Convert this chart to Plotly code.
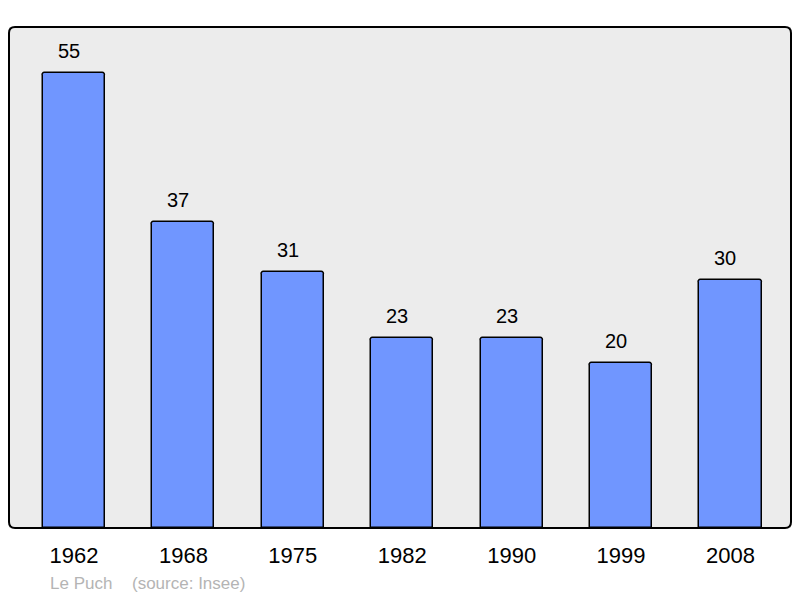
import plotly.graph_objects as go

years = ["1962", "1968", "1975", "1982", "1990", "1999", "2008"]
population = [55, 37, 31, 23, 23, 20, 30]
place = "Le Puch"
source = "(source: Insee)"

W, H = 800, 598
L, R, T, B = 9, 9, 27, 70
pw, ph = W - L - R, H - T - B
FONT = "Liberation Sans, Arial, sans-serif"

fig = go.Figure()
fig.add_trace(go.Bar(
    x=list(range(len(years))), y=population, width=0.567,
    marker=dict(color="#7096ff", line=dict(color="#000000", width=1.5), cornerradius=3),
    hoverinfo="skip",
))

for i, v in enumerate(population):
    fig.add_annotation(x=i, y=v, text=str(v), showarrow=False, yanchor="bottom",
                       yshift=10, xshift=-5, borderpad=0,
                       font=dict(family=FONT, size=20, color="#000"))

# rounded frame
rx, ry = 6 / pw, 6 / ph
path = (f"M {rx},0 L {1-rx},0 Q 1,0 1,{ry} L 1,{1-ry} Q 1,1 {1-rx},1 "
        f"L {rx},1 Q 0,1 0,{1-ry} L 0,{ry} Q 0,0 {rx},0 Z")
fig.add_shape(type="path", path=path, xref="paper", yref="paper",
              line=dict(color="#000", width=2), fillcolor="rgba(0,0,0,0)", layer="above")

fy = (H - B - 583) / ph
fig.add_annotation(x=(48 - L) / pw, y=fy, xref="paper", yref="paper", text=place,
                   showarrow=False, xanchor="left", yanchor="middle",
                   font=dict(family=FONT, size=17, color="#b4b4b4"))
fig.add_annotation(x=(130 - L) / pw, y=fy, xref="paper", yref="paper",
                   text=source, showarrow=False, xanchor="left", yanchor="middle",
                   font=dict(family=FONT, size=17, color="#b4b4b4"))

fig.update_layout(
    width=W, height=H, margin=dict(l=L, r=R, t=T, b=B),
    paper_bgcolor="#ffffff", plot_bgcolor="#ececec",
    showlegend=False, bargap=0,
    xaxis=dict(range=[-0.594, 6.553], tickmode="array", tickvals=list(range(len(years))),
               ticktext=years, showgrid=False, zeroline=False, ticks="outside",
               ticklen=8, tickcolor="rgba(0,0,0,0)",
               tickfont=dict(family=FONT, size=22, color="#000")),
    yaxis=dict(range=[0, 60.56], showgrid=False, zeroline=False, showticklabels=False),
)

fig.write_html("out.html", config={"displayModeBar": False},
               post_script="document.body.style.margin='0';document.body.style.overflow='hidden';")
